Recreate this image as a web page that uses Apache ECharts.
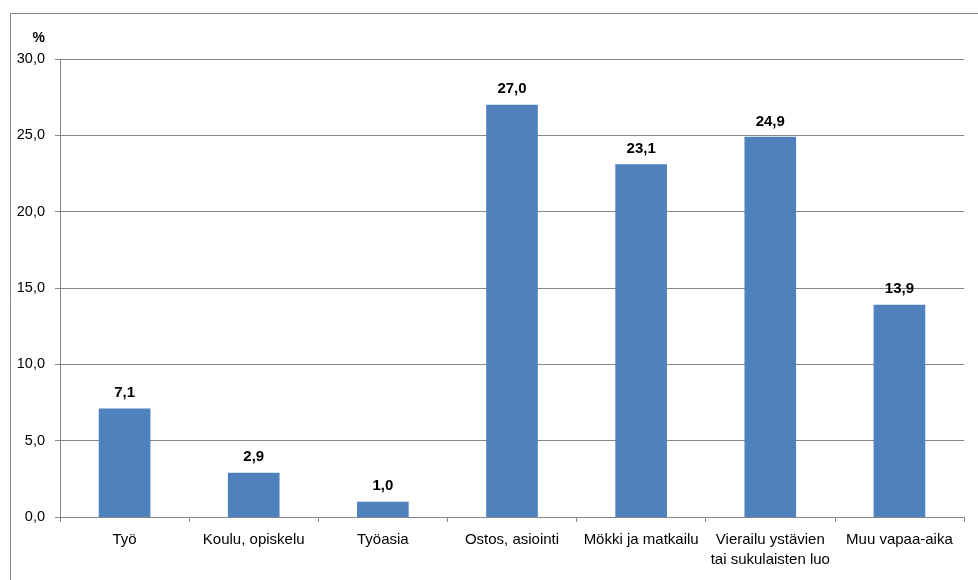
<!DOCTYPE html>
<html>
<head>
<meta charset="utf-8">
<script src="https://cdn.jsdelivr.net/npm/echarts@6/dist/echarts.min.js"></script>
<style>
  html, body { margin: 0; padding: 0; background: #ffffff; }
  #chart { width: 978px; height: 580px; }
</style>
</head>
<body>
<div id="chart"></div>
<script>
// Matkan tarkoitus, osuus matkoista (%)
const categories = [
  'Työ',
  'Koulu, opiskelu',
  'Työasia',
  'Ostos, asiointi',
  'Mökki ja matkailu',
  'Vierailu ystävien\ntai sukulaisten luo',
  'Muu vapaa-aika'
];
const shares = [7.1, 2.9, 1.0, 27.0, 23.1, 24.9, 13.9];
const yTicks = { min: 0, max: 30, interval: 5 };

const fmt = v => v.toFixed(1).replace('.', ',');
const FONT = '"Liberation Sans", "DejaVu Sans", sans-serif';
const GRAY = '#868686';

const chart = echarts.init(document.getElementById('chart'), null, { renderer: 'canvas' });
chart.setOption({
  animation: false,
  backgroundColor: '#ffffff',
  textStyle: { fontFamily: FONT, color: '#000' },
  graphic: [{
    type: 'rect',
    shape: { x: 10.5, y: 13.5, width: 1000, height: 700 },
    style: { fill: 'none', stroke: GRAY, lineWidth: 1 },
    silent: true
  }],
  grid: { left: 60, right: 14, top: 59, bottom: 63, containLabel: false },
  xAxis: {
    type: 'category',
    data: categories,
    axisLine: { show: true, lineStyle: { color: GRAY } },
    axisTick: { show: true, alignWithLabel: false, length: 5, lineStyle: { color: GRAY } },
    axisLabel: { color: '#000', fontSize: 15, margin: 13, lineHeight: 20, fontFamily: FONT, interval: 0 },
    splitLine: { show: false }
  },
  yAxis: {
    type: 'value',
    min: yTicks.min,
    max: yTicks.max,
    interval: yTicks.interval,
    name: '%',
    nameLocation: 'end',
    nameGap: 14,
    nameTextStyle: { color: '#000', fontWeight: 'bold', fontSize: 14, align: 'right', padding: [0, 15, 0, 0] },
    axisLine: { show: true, lineStyle: { color: GRAY } },
    axisTick: { show: true, length: 5, lineStyle: { color: GRAY } },
    axisLabel: { color: '#000', fontSize: 14.5, margin: 15, formatter: v => fmt(v) },
    splitLine: { show: true, lineStyle: { color: GRAY, width: 1 } }
  },
  series: [{
    type: 'bar',
    data: shares,
    barWidth: '40%',
    itemStyle: { color: '#4F81BD' },
    label: {
      show: true,
      position: 'top',
      distance: 8,
      color: '#000',
      fontWeight: 'bold',
      fontSize: 15,
      fontFamily: FONT,
      formatter: p => fmt(p.value)
    }
  }]
});
</script>
</body>
</html>
